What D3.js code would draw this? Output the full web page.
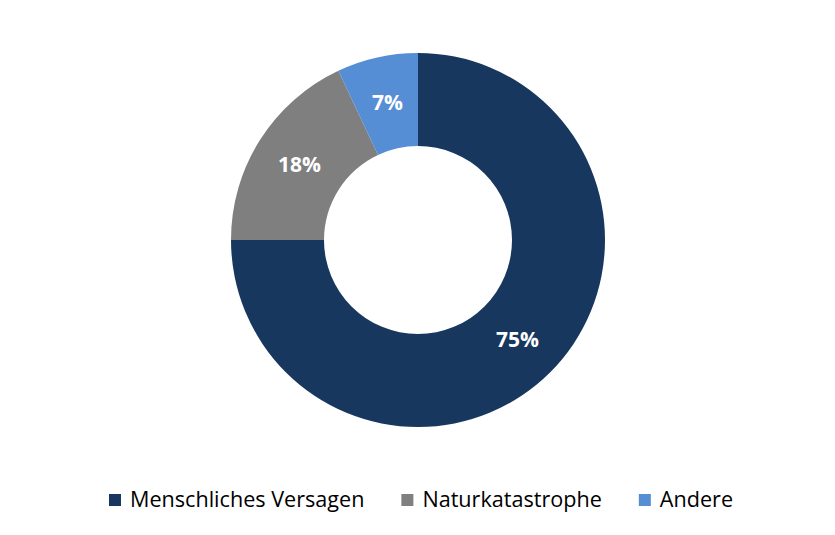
<!DOCTYPE html>
<html><head><meta charset="utf-8">
<script src="https://cdn.jsdelivr.net/npm/d3@7"></script>
<style>body{margin:0;background:#fff}svg{display:block}</style>
</head><body>
<svg id="c" width="835" height="535"></svg>
<script>
const categories = ["Menschliches Versagen", "Naturkatastrophe", "Andere"];
const values = [75, 18, 7];
const labels = ["75%", "18%", "7%"];
const colors = ["#17375E", "#7F7F7F", "#558ED5"];

const svg = d3.select("#c");
const cx = 418, cy = 240, outerR = 187, innerR = 94;
const font = "'Open Sans', sans-serif";

const pie = d3.pie().value(d => d).sort(null);
const arcs = pie(values);
const arc = d3.arc().innerRadius(innerR).outerRadius(outerR);
const g = svg.append("g").attr("transform", `translate(${cx},${cy})`);
g.selectAll("path").data(arcs).join("path")
  .attr("d", arc).attr("fill", (d, i) => colors[i]);
g.selectAll("text").data(arcs).join("text")
  .attr("transform", d => `translate(${arc.centroid(d)})`)
  .attr("text-anchor", "middle").attr("dy", "0.36em")
  .attr("fill", "#fff").attr("font-weight", "bold")
  .attr("font-family", font).attr("font-size", 21)
  .text((d, i) => labels[i]);

// legend
const lg = svg.append("g");
const items = lg.selectAll("g").data(categories).join("g");
items.append("rect").attr("width", 12).attr("height", 12).attr("y", -13)
  .attr("fill", (d, i) => colors[i]);
items.append("text").attr("x", 21).attr("y", 0)
  .attr("font-family", font).attr("font-size", 21.6).attr("fill", "#000")
  .text(d => d);
let x = 0; const gap = 37;
items.each(function () {
  const w = this.getBBox().width;
  d3.select(this).attr("transform", `translate(${x},0)`);
  x += w + gap;
});
const total = x - gap;
lg.attr("transform", `translate(${421 - total / 2},507)`);
</script>
</body></html>
